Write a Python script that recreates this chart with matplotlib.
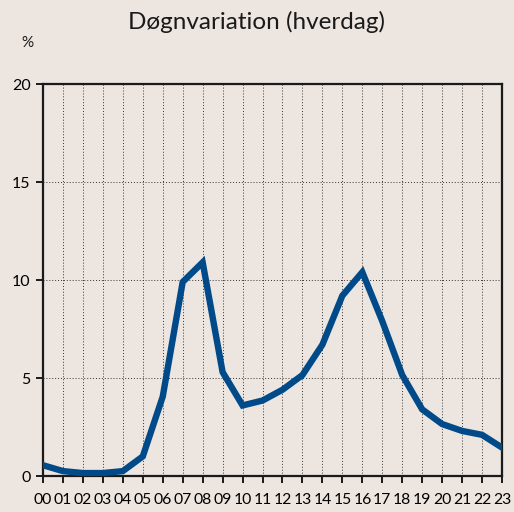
import matplotlib.pyplot as plt

# Timer og andel af døgnets trafik (%)
hours = list(range(24))
hour_labels = [f"{h:02d}" for h in hours]
share = [0.55, 0.25, 0.15, 0.15, 0.25, 1.0, 4.05, 9.9, 10.9, 5.3, 3.6, 3.85,
         4.4, 5.15, 6.7, 9.2, 10.4, 7.9, 5.15, 3.4, 2.65, 2.3, 2.1, 1.45]
y_ticks = [0, 5, 10, 15, 20]

bg = '#ece5e0'
plt.rcParams['font.family'] = ['Lato', 'DejaVu Sans']

fig = plt.figure(figsize=(5.14, 5.12), dpi=100, facecolor=bg)
ax = fig.add_axes([43 / 514, 36 / 512, 459 / 514, 392 / 512])
ax.set_facecolor(bg)

ax.plot(hours, share, color='#004a8a', linewidth=4.6, solid_joinstyle='miter', zorder=3)

ax.set_xlim(0, 23)
ax.set_ylim(0, 20)
ax.set_xticks(hours)
ax.set_xticklabels(hour_labels, fontsize=11.3)
ax.set_yticks(y_ticks)
ax.set_yticklabels([str(v) for v in y_ticks], fontsize=11.5)

ax.grid(True, linestyle=(0, (1, 2)), color='#333333', linewidth=0.7)
for s in ax.spines.values():
    s.set_linewidth(1.6)
    s.set_color('#1a1a1a')
ax.tick_params(axis='both', direction='out', length=5, width=1.4, color='#1a1a1a')
ax.tick_params(axis='x', pad=7)
ax.tick_params(axis='y', pad=4)

fig.text(257 / 514, 1 - 22 / 512, "Døgnvariation (hverdag)", ha='center', va='center', fontsize=17.5, color='#1a1a1a')
fig.text(27 / 514, 1 - 43 / 512, "%", ha='center', va='center', fontsize=11, color='#1a1a1a')

fig.savefig('out.png', dpi=100, facecolor=bg)
